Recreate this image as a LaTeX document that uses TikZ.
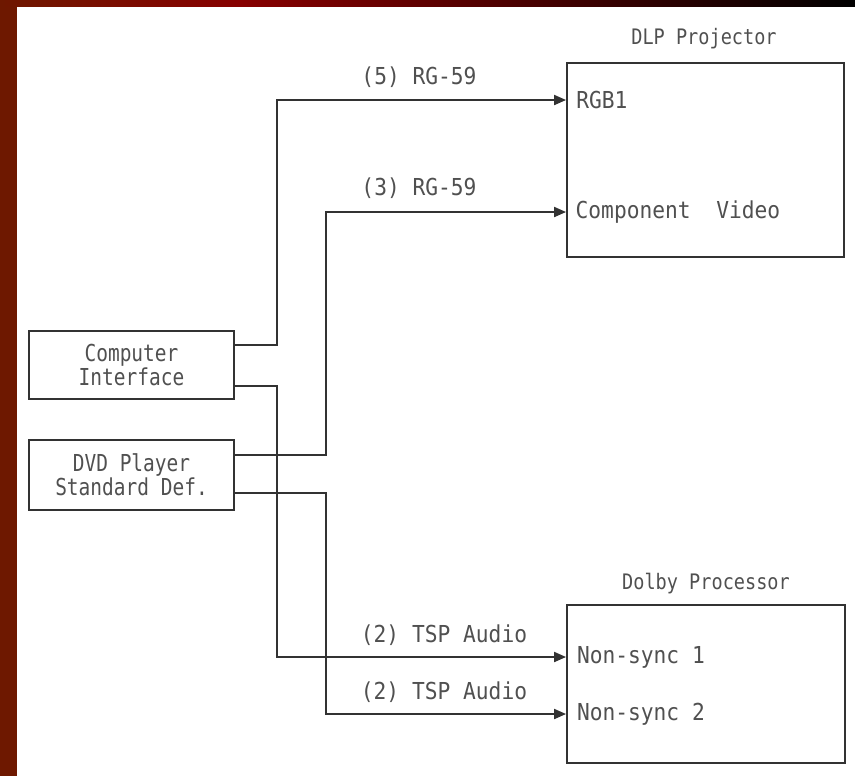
\documentclass[tikz,border=0pt]{standalone}
\usepackage{fontspec}
\newfontfamily\portfont[FakeStretch=0.91]{DejaVu Sans Mono}
\newfontfamily\boxfont[FakeStretch=0.835]{DejaVu Sans Mono}
\newfontfamily\titlefont[FakeStretch=0.87]{DejaVu Sans Mono}
\usetikzlibrary{arrows.meta}
\definecolor{bandred}{RGB}{110,24,0}
\definecolor{brightred}{RGB}{135,0,0}
\definecolor{bandbrown}{RGB}{100,32,0}
\definecolor{inkline}{RGB}{50,50,50}
\definecolor{inktext}{RGB}{80,80,80}
\tikzset{
  box/.style={draw=inkline, line width=1.4pt, rectangle, inner sep=0pt},
  boxtext/.style={font=\boxfont\fontsize{17.5}{18}\selectfont, text=inktext, align=center, inner sep=0pt},
  ttl/.style={font=\titlefont\fontsize{16}{19}\selectfont, text=inktext, inner sep=0pt},
  lbl/.style={font=\portfont\fontsize{17.5}{19}\selectfont, text=inktext, inner sep=0pt},
  port/.style={font=\portfont\fontsize{17.5}{19}\selectfont, text=inktext, inner sep=0pt, anchor=west},
  cable/.style={draw=inkline, line width=1.4pt, -{Triangle[length=9pt,width=7.5pt]}}
}
\begin{document}
\begin{tikzpicture}[x=0.75pt,y=-0.75pt]
\useasboundingbox (0,0) rectangle (855,776);
\fill[white] (0,0) rectangle (855,776);
\fill[bandred] (0,0) rectangle (17,776);
\shade[left color=bandred, right color=brightred] (0,0) rectangle (240,6);
\shade[left color=brightred, middle color=bandbrown, right color=black] (240,0) rectangle (855,6);

% boxes
\node[box, minimum width=207.75pt, minimum height=145.5pt] (dlp) at (705.5,160) {};
\node[box, minimum width=208.5pt, minimum height=118.5pt] (dolby) at (706,684) {};
\node[box, minimum width=153.75pt, minimum height=51pt] (ci) at (131.5,365) {};
\node[box, minimum width=153.75pt, minimum height=52.5pt] (dvd) at (131.5,475) {};

% titles and box texts
\node[ttl] (dlpt) at (704,39) {DLP\ Projector};
\node[ttl] (dolbyt) at (706,584) {Dolby\ Processor};
\node[boxtext] (cit) at (ci) {Computer\\Interface};
\node[boxtext] (dvdt) at (dvd) {DVD\ Player\\Standard\ Def.};

% ports
\coordinate (rgb) at ([yshift=45pt]dlp.west);
\coordinate (comp) at ([yshift=-39pt]dlp.west);
\coordinate (ns1) at ([yshift=20.25pt]dolby.west);
\coordinate (ns2) at ([yshift=-22.5pt]dolby.west);
\node[port] (rgbt) at ([xshift=7.5pt]rgb) {RGB1};
\node[port] (compt) at ([xshift=7pt]comp) {Component\ \ Video};
\node[port] (ns1t) at ([xshift=8pt]ns1) {Non-sync\ 1};
\node[port] (ns2t) at ([xshift=8pt]ns2) {Non-sync\ 2};

% source ports
\coordinate (ci1) at ([yshift=15pt]ci.east);
\coordinate (ci2) at ([yshift=-15.75pt]ci.east);
\coordinate (dvd1) at ([yshift=15pt]dvd.east);
\coordinate (dvd2) at ([yshift=-13.5pt]dvd.east);

% cables
\draw[cable] (ci1) -- ++(42,0) |- (rgb);
\draw[cable] (dvd1) -- ++(91,0) |- (comp);
\draw[cable] (ci2) -- ++(42,0) |- (ns1);
\draw[cable] (dvd2) -- ++(91,0) |- (ns2);

% cable labels
\node[lbl] (l1) at (419,77) {(5)\ RG-59};
\node[lbl] (l2) at (419,188) {(3)\ RG-59};
\node[lbl] (l3) at (444,635) {(2)\ TSP\ Audio};
\node[lbl] (l4) at (444,692) {(2)\ TSP\ Audio};
\end{tikzpicture}
\end{document}
